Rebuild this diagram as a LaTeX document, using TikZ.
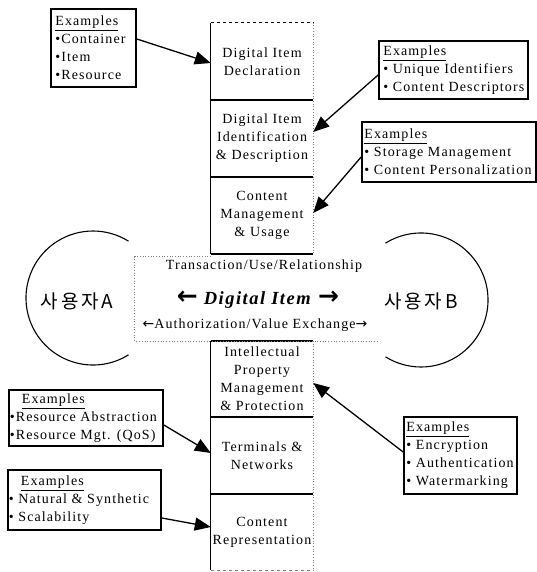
\documentclass[tikz,border=0pt]{standalone}
\usepackage{fontspec}
\setmainfont{Liberation Serif}[LetterSpace=8]
\newfontfamily\krfont{Noto Sans CJK KR}[LetterSpace=15]
\newfontfamily\arrfont{DejaVu Sans}
\usetikzlibrary{arrows.meta}
\begin{document}
\begin{tikzpicture}[x=1pt,y=-1pt,
  txt/.style={font=\fontsize{14pt}{18pt}\selectfont, inner sep=0pt, align=center},
  colbox/.style={minimum width=102pt, inner sep=0pt, text width=100pt, align=center, font=\fontsize{14pt}{18pt}\selectfont},
  exbox/.style={draw, line width=1.7pt, inner sep=0pt},
  extext/.style={anchor=west, align=left, inner sep=0pt, font=\fontsize{14pt}{18pt}\selectfont},
  conn/.style={line width=1.3pt, -{Triangle[length=16pt,width=13pt]}},
  sep/.style={line width=1.8pt},
  faint/.style={gray, dotted, line width=0.7pt},
  user/.style={font=\krfont\fontsize{19pt}{19pt}\selectfont, inner sep=0pt},
  ring/.style={line width=1.1pt}
]
\useasboundingbox (0,0) rectangle (537,572);

% central column
\node[colbox, minimum height=77pt] (b1) at (262,61.5) {Digital Item\\Declaration};
\node[colbox, minimum height=77pt] (b2) at (262,138.5) {Digital Item\\Identification\\\& Description};
\node[colbox, minimum height=77pt] (b3) at (262,215.5) {Content\\Management\\\& Usage};
\node[minimum width=242pt, minimum height=84pt, inner sep=0pt] (mid) at (256,299) {};
\node[colbox, minimum height=76pt] (b4) at (262,379) {Intellectual\\Property\\Management\\\& Protection};
\node[colbox, minimum height=77pt] (b5) at (262,455.5) {Terminals \&\\Networks};
\node[colbox, minimum height=76pt] (b6) at (262,532) {Content\\Representation};

% column borders
\draw[dashed, line width=0.7pt] (b1.north west) -- (b1.north east);
\draw[line width=0.9pt] (b1.north west) -- (b3.south west);
\draw[line width=0.9pt] (b4.north west) -- (b6.south west);
\draw[faint] (b1.north east) -- (b3.south east);
\draw[faint] (b4.north east) -- (b6.south east);
\draw[sep] (b1.south west) -- (b1.south east);
\draw[sep] (b2.south west) -- (b2.south east);
\draw[sep] (b3.south west) -- (b3.south east);
\draw[sep] (b4.north west) -- (b4.north east);
\draw[sep] (b4.south west) -- (b4.south east);
\draw[sep] (b5.south west) -- (b5.south east);
\draw[dashed, gray, line width=0.7pt] (b6.south west) -- (b6.south east);

% middle exchange area
\draw[faint] (b3.south west |- mid.north) -- (mid.north west) -- (mid.south west) -- (mid.south east);
\node[txt] (trans) at (264,266) {Transaction/Use/Relationship};
\node[txt, font=\fontsize{18.5pt}{20pt}\selectfont] (di) at (258,300)
  {{\arrfont\bfseries\fontsize{25pt}{20pt}\selectfont ←}\ \textbf{\textit{Digital Item}}\ {\arrfont\bfseries\fontsize{25pt}{20pt}\selectfont →}};
\node[txt] (auth) at (255,325) {{\arrfont ←}Authorization/Value Exchange{\arrfont →}};

% users
\node[user] (ua) at (77,301) {사용자A};
\node[user] (ub) at (421,301) {사용자B};
\draw[ring] (93,298) ++(58:67) arc[start angle=58, end angle=302, radius=67];
\draw[ring] (421,300) ++(-122:67) arc[start angle=-122, end angle=122, radius=67];

% example boxes
\node[exbox, minimum width=85pt, minimum height=78pt] (ex1) at (93.5,48) {};
\node[extext] (ex1t) at ([xshift=5pt]ex1.west) {\underline{Examples}\\•Container\\•Item\\•Resource};

\node[exbox, minimum width=149pt, minimum height=58pt] (ex2) at (453.5,70) {};
\node[extext] (ex2t) at ([xshift=5pt]ex2.west) {\underline{Examples}\\• Unique Identifiers\\• Content Descriptors};

\node[exbox, minimum width=174pt, minimum height=60pt] (ex3) at (449,152) {};
\node[extext] (ex3t) at ([xshift=3pt]ex3.west) {\underline{Examples}\\• Storage Management\\• Content Personalization};

\node[exbox, minimum width=154pt, minimum height=56pt] (ex4) at (86,418) {};
\node[extext] (ex4t) at ([xshift=1.5pt]ex4.west) {\hspace{12pt}\underline{Examples}\\•Resource Abstraction\\•Resource Mgt. (QoS)};

\node[exbox, minimum width=153pt, minimum height=60pt] (ex5) at (84.5,500) {};
\node[extext] (ex5t) at ([xshift=1.5pt]ex5.west) {\hspace{12pt}\underline{Examples}\\• Natural \& Synthetic\\• Scalability};

\node[exbox, minimum width=113pt, minimum height=77pt] (ex6) at (460.5,455.5) {};
\node[extext] (ex6t) at ([xshift=3pt]ex6.west) {\underline{Examples}\\• Encryption\\• Authentication\\• Watermarking};

% connectors
\draw[conn] ([yshift=9pt]ex1.east) -- ([yshift=-1.5pt]b1.west);
\draw[conn] ([yshift=-5pt]ex2.west) -- ([yshift=6.5pt]b2.east);
\draw[conn] ([yshift=-5pt]ex3.west) -- ([yshift=2.5pt]b3.east);
\draw[conn] ([yshift=-7pt]ex4.east) -- ([yshift=2.5pt]b5.west);
\draw[conn] ([yshift=-18pt]ex5.east) -- ([yshift=5pt]b6.west);
\draw[conn] ([yshift=3.5pt]ex6.west) -- ([yshift=-4pt]b4.east);
\end{tikzpicture}
\end{document}
